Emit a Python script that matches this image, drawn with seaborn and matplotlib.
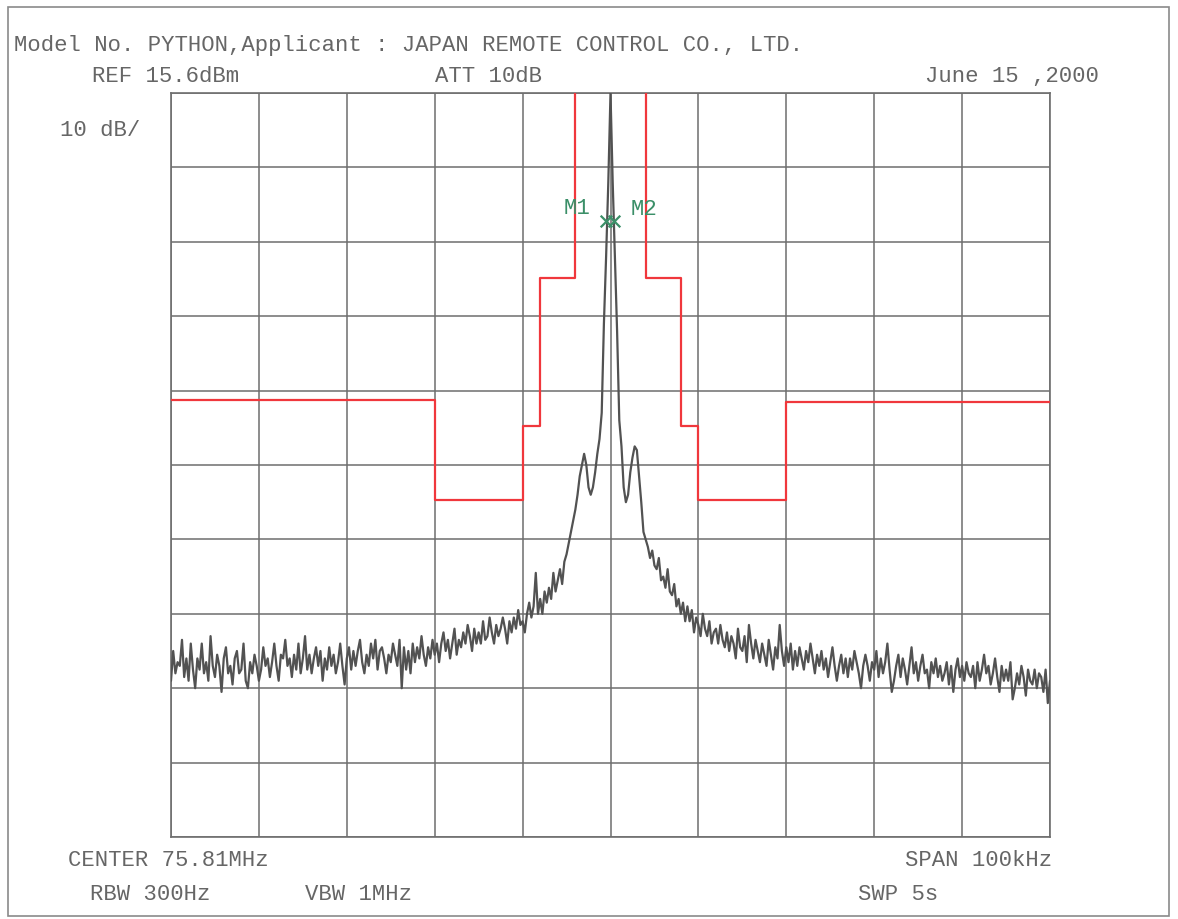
import numpy as np
import pandas as pd
import matplotlib
matplotlib.use("Agg")
import matplotlib.pyplot as plt
import seaborn as sns

# ---------------- data ----------------
title_text = "Model No. PYTHON,Applicant : JAPAN REMOTE CONTROL CO., LTD."
ref_text = "REF 15.6dBm"
att_text = "ATT 10dB"
date_text = "June 15 ,2000"
scale_text = "10 dB/"
center_text = "CENTER 75.81MHz"
span_text = "SPAN 100kHz"
rbw_text = "RBW 300Hz"
vbw_text = "VBW 1MHz"
swp_text = "SWP 5s"

# trace: 401 sweep points from -50 kHz to +50 kHz, level in dB below REF
trace_level = [
    -79, -75, -78, -76.5,
    -77, -73.5, -78.5, -76,
    -79, -74, -77.5, -80,
    -76, -77.5, -74, -78,
    -76.5, -79, -73, -77,
    -78.5, -75.5, -77, -80.5,
    -76, -74.5, -78, -77,
    -79.5, -76, -75, -78,
    -77.5, -74, -79, -80,
    -76.5, -78, -75.5, -77,
    -79, -77.5, -74.5, -77,
    -76, -78.5, -76.5, -74,
    -77, -79, -75.5, -76,
    -73.5, -77, -76, -78.5,
    -75.5, -77.5, -74, -78,
    -76, -73, -77.5, -75.5,
    -78, -76, -74.5, -77,
    -75, -79, -76, -77.5,
    -74.5, -77, -75.5, -78,
    -76.5, -74, -77, -79.5,
    -76, -74.5, -77.5, -75,
    -77, -75, -73.5, -76.5,
    -78, -75.5, -77, -74,
    -76, -73.5, -77.5, -75,
    -74.5, -76, -78, -75.5,
    -76.5, -74, -75.5, -77,
    -73.5, -80, -74.5, -77.5,
    -75, -78, -74, -76.5,
    -74.5, -76, -73, -75.5,
    -77, -74.5, -76, -73.5,
    -75.5, -74, -76.5, -74,
    -72.5, -75, -73.5, -76,
    -74, -72, -75.5, -73.5,
    -74.5, -72.5, -74, -71.5,
    -73, -75, -72, -74,
    -72.5, -74, -71, -73.5,
    -73, -70.5, -72.5, -74,
    -71.5, -73, -72, -70.5,
    -72, -74, -71, -72.5,
    -70.5, -72, -69.5, -71.5,
    -71, -72.5, -70, -68.5,
    -70.5, -69, -64.5, -70,
    -68, -70, -67, -68.5,
    -66.5, -68, -64.5, -67,
    -65.5, -64, -66, -63,
    -62, -60.5, -59, -57.5,
    -56, -54, -51.5, -50,
    -48.5, -50, -53, -54,
    -53, -51, -48.5, -46.5,
    -43, -31, -22, -12,
    0, -12, -22, -32,
    -44, -47.5, -53, -55,
    -54, -51, -49, -47.5,
    -48, -51.5, -55, -59,
    -60, -61, -62.5, -61.5,
    -63.5, -64, -62.5, -65.5,
    -65, -66.5, -64, -67,
    -67.5, -66, -69, -68,
    -70, -68.5, -71, -69,
    -71, -69.5, -72.5, -70.5,
    -71.5, -73, -70, -72,
    -73, -71, -74, -72.5,
    -72, -74, -71.5, -73.5,
    -74.5, -72.5, -75, -73,
    -74, -76, -72, -74.5,
    -75, -73, -76.5, -71.5,
    -74, -76, -73.5, -75,
    -76.5, -74, -75.5, -77,
    -73.5, -75.5, -77.5, -74.5,
    -76, -71.5, -75, -77,
    -74.5, -76.5, -74, -77.5,
    -75, -77, -74.5, -76,
    -77.5, -75, -76.5, -74,
    -76, -78, -75.5, -77,
    -75, -77.5, -76, -78.5,
    -76.5, -74.5, -77, -79,
    -77, -75.5, -78, -76,
    -78.5, -76, -77.5, -75,
    -76.5, -78, -80, -77,
    -75.5, -77, -79, -76.5,
    -77.5, -75, -78.5, -76,
    -78, -76.5, -74, -77.5,
    -80.5, -79, -77, -75.5,
    -78.5, -76, -77.5, -79.5,
    -77, -74.5, -78, -76.5,
    -79, -77, -75.5, -78,
    -77.5, -80, -76.5, -78,
    -76, -78.5, -77, -79,
    -78, -76.5, -79.5, -77,
    -80.5, -77.5, -76, -78.5,
    -77, -79, -76.5, -78,
    -78.5, -77, -80, -76.5,
    -79, -77.5, -75.5, -78,
    -77, -79.5, -78, -76,
    -78.5, -80.5, -77, -79,
    -77.5, -79, -76.5, -81.5,
    -80, -78, -79.5, -77,
    -78.5, -81, -77.5, -79,
    -79.5, -77.5, -80, -78,
    -78.5, -80.5, -77.5, -82,
    -79,
]
trace_freq = np.linspace(-50, 50, len(trace_level))  # kHz offset from CENTER

# limit mask (steps), kHz and dB below REF
mask_freq = [-50, -20, -10, -8, -4, 4, 8, 10, 20, 50]
mask_level = [-41.3, -54.7, -44.8, -24.9, 5, -24.9, -44.8, -54.7, -41.5, -41.5]

# markers
marker_names = ["M1", "M2"]
marker_freq = [-0.55, 0.45]
marker_level = [-17.2, -17.2]

# ---------------- style ----------------
W, H = 1178, 919
sns.set_theme(style="white")
plt.rcParams["font.family"] = ["Liberation Mono", "DejaVu Sans Mono"]
TXT = "#666666"
GRID = "#6e6e6e"
RED = "#f0373c"
GREEN = "#3b8f68"

fig = plt.figure(figsize=(W / 100, H / 100), dpi=100)
fig.patch.set_facecolor("white")
ax = fig.add_axes([171 / W, 1 - 837 / H, 879 / W, 744 / H])

trace_df = pd.DataFrame({"freq": trace_freq, "level": trace_level})
mask_df = pd.DataFrame({"freq": mask_freq, "level": mask_level})
mk_df = pd.DataFrame({"freq": marker_freq, "level": marker_level, "name": marker_names})

sns.lineplot(data=mask_df, x="freq", y="level", ax=ax, color=RED, lw=1.6,
             drawstyle="steps-post", estimator=None, sort=False, zorder=3)
sns.lineplot(data=trace_df, x="freq", y="level", ax=ax, color="#525252", lw=1.6,
             estimator=None, sort=False, zorder=4)
sns.scatterplot(data=mk_df, x="freq", y="level", ax=ax, marker="x", s=70,
                color=GREEN, linewidth=1.6, zorder=5)

offsets = {"M1": (-11, 9, "right"), "M2": (12, 8, "left")}
for _, r in mk_df.iterrows():
    dx, dy, ha = offsets[r["name"]]
    ax.annotate(r["name"], xy=(r["freq"], r["level"]), xytext=(dx, dy),
                textcoords="offset points", ha=ha, va="center",
                color=GREEN, fontsize=16)

ax.set_xlim(-50, 50)
ax.set_ylim(-100, 0)
ax.set_xticks(np.arange(-50, 51, 10))
ax.set_yticks(np.arange(-100, 1, 10))
ax.tick_params(length=0, labelbottom=False, labelleft=False)
ax.grid(True, color=GRID, lw=1.1)
ax.set_xlabel("")
ax.set_ylabel("")
for s in ax.spines.values():
    s.set_color(GRID)
    s.set_linewidth(1.2)

# ---------------- annotation text ----------------
FS = 16
def ftext(x, y, s, **kw):
    fig.text(x / W, 1 - y / H, s, ha="left", va="center", color=TXT,
             fontsize=kw.pop("fontsize", FS), **kw)

ftext(14, 45, title_text)
ftext(92, 77, ref_text)
ftext(435, 77, att_text)
ftext(925, 77, date_text)
ftext(60, 130, scale_text)
ftext(68, 861, center_text)
ftext(905, 861, span_text)
ftext(90, 894, rbw_text)
ftext(305, 894, vbw_text)
ftext(858, 894, swp_text)

# outer frame
fig.add_artist(plt.Rectangle((8 / W, 1 - 916 / H), (1169 - 8) / W, (916 - 7) / H,
                             transform=fig.transFigure, fill=False,
                             edgecolor="#8a8a8a", lw=1.2))

fig.savefig("out.png", dpi=100, facecolor="white")
